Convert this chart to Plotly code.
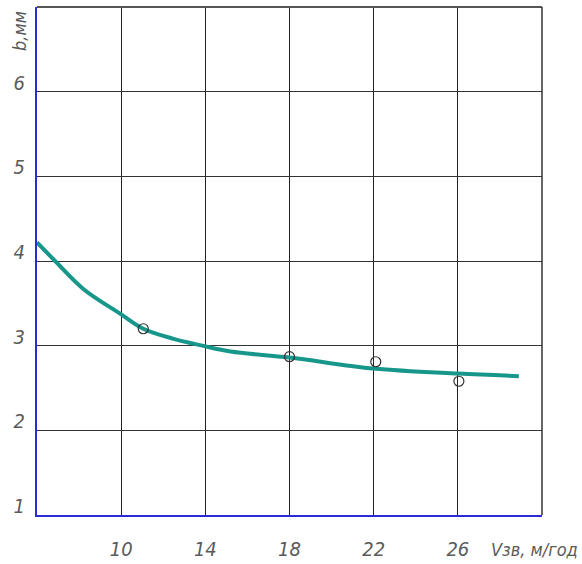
import plotly.graph_objects as go

# Smooth fitted curve (teal)
curve_x = [6.0, 6.86, 8.2, 10.0, 11.05, 12.5, 13.86, 15.2, 18.0, 22.0, 26.0, 28.9]
curve_y = [4.22, 4.0, 3.67, 3.37, 3.2, 3.08, 3.0, 2.93, 2.86, 2.73, 2.67, 2.64]

# Measured points (open circles)
point_x = [11.05, 18.0, 22.1, 26.05]
point_y = [3.2, 2.87, 2.81, 2.58]

x_tick_vals = [10, 14, 18, 22, 26]
x_tick_text = ["10", "14", "18", "22", "26"]
y_tick_vals = [1, 2, 3, 4, 5, 6]
y_tick_text = ["1", "2", "3", "4", "5", "6"]

x_title = "Vзв, м/год"
y_title = "b,мм"

FONT = "DejaVu Sans Condensed, Liberation Sans Narrow, DejaVu Sans"
LABEL_COLOR = "#5a5a5a"

fig = go.Figure()
fig.add_trace(go.Scatter(
    x=curve_x, y=curve_y, mode="lines",
    line=dict(color="#17968a", width=4, shape="spline", smoothing=1.0),
    hoverinfo="skip", showlegend=False,
))
fig.add_trace(go.Scatter(
    x=point_x, y=point_y, mode="markers",
    marker=dict(symbol="circle-open", size=10, color="#333333", line=dict(width=1.2)),
    showlegend=False,
))

tick_font = dict(family=FONT, size=20, color=LABEL_COLOR, style="italic")

fig.update_layout(
    width=582, height=564,
    margin=dict(l=37, r=40, t=7, b=49),
    plot_bgcolor="white", paper_bgcolor="white",
    font=tick_font,
    xaxis=dict(
        range=[6, 30], tickvals=x_tick_vals, ticktext=x_tick_text,
        showgrid=True, gridcolor="#222222", gridwidth=1,
        showline=True, linecolor="#2b2bd6", linewidth=2,
        zeroline=False, ticks="", ticklabelstandoff=15, automargin=False,
        tickfont=tick_font,
    ),
    yaxis=dict(
        range=[1, 7], tickvals=y_tick_vals, ticktext=y_tick_text,
        showgrid=True, gridcolor="#333333", gridwidth=1,
        showline=True, linecolor="#2b2bd6", linewidth=2,
        zeroline=False, ticks="", ticklabelstandoff=6, ticklabelshift=-9,
        automargin=False, tickfont=tick_font,
    ),
    shapes=[
        dict(type="line", xref="paper", yref="paper", x0=0, x1=1, y0=1, y1=1,
             line=dict(color="#555555", width=2)),
        dict(type="line", xref="paper", yref="paper", x0=1, x1=1, y0=0, y1=1,
             line=dict(color="#333333", width=1.5)),
    ],
    annotations=[
        dict(text=x_title, xref="paper", yref="paper", x=1.075, y=0, yshift=-34,
             xanchor="right", yanchor="middle", showarrow=False,
             font=dict(family=FONT, size=18, color=LABEL_COLOR, style="italic")),
        dict(text=y_title, xref="paper", yref="paper", x=0, y=1, xshift=-18, yshift=-24,
             xanchor="center", yanchor="middle", textangle=-90, showarrow=False,
             font=dict(family=FONT, size=18, color=LABEL_COLOR, style="italic")),
    ],
)

fig.write_html("out.html", config={"displayModeBar": False},
               post_script="document.body.style.margin='0';")
